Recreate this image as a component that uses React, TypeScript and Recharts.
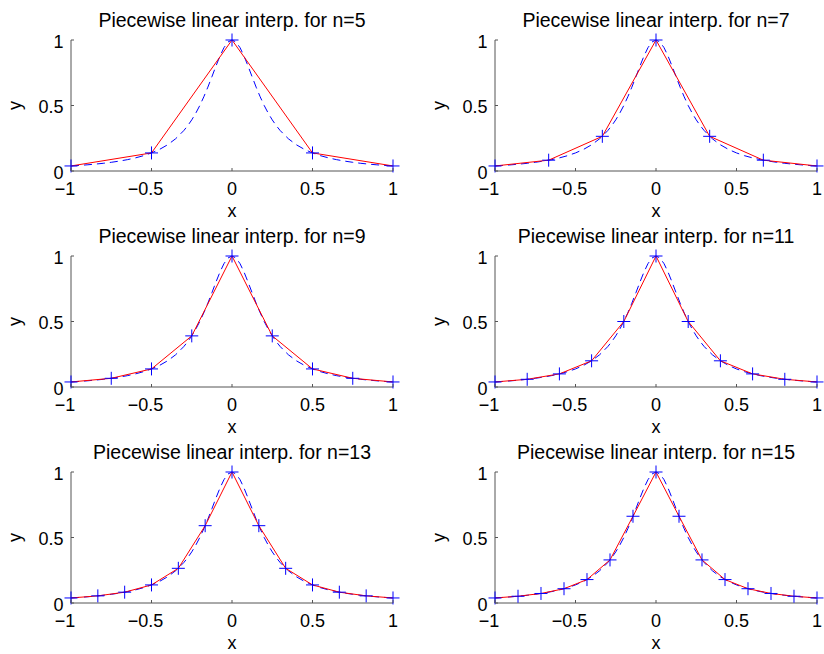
import { ComposedChart, Line, Scatter, XAxis, YAxis } from 'recharts'

// dashed reference curve
const fineX = [
  -1, -0.95, -0.9, -0.85, -0.8, -0.75, -0.7, -0.65, -0.6, -0.55, -0.5, -0.45, -0.4, -0.35,
  -0.3, -0.275, -0.25, -0.225, -0.2, -0.175, -0.15, -0.125, -0.1, -0.075, -0.05, -0.025,
  0,
  0.025, 0.05, 0.075, 0.1, 0.125, 0.15, 0.175, 0.2, 0.225, 0.25, 0.275, 0.3,
  0.35, 0.4, 0.45, 0.5, 0.55, 0.6, 0.65, 0.7, 0.75, 0.8, 0.85, 0.9, 0.95, 1,
]
const fineY = [
  0.0385, 0.0424, 0.0471, 0.0525, 0.0588, 0.0664, 0.0755, 0.0865, 0.1, 0.1168, 0.1379, 0.1649, 0.2, 0.2462,
  0.3077, 0.3459, 0.3902, 0.4414, 0.5, 0.5664, 0.64, 0.7191, 0.8, 0.8767, 0.9412, 0.9846,
  1,
  0.9846, 0.9412, 0.8767, 0.8, 0.7191, 0.64, 0.5664, 0.5, 0.4414, 0.3902, 0.3459, 0.3077,
  0.2462, 0.2, 0.1649, 0.1379, 0.1168, 0.1, 0.0865, 0.0755, 0.0664, 0.0588, 0.0525, 0.0471, 0.0424, 0.0385,
]

// interpolation nodes for each n
const x5 = [-1, -0.5, 0, 0.5, 1]
const y5 = [0.0385, 0.1379, 1, 0.1379, 0.0385]
const x7 = [-1, -0.6667, -0.3333, 0, 0.3333, 0.6667, 1]
const y7 = [0.0385, 0.0826, 0.2647, 1, 0.2647, 0.0826, 0.0385]
const x9 = [-1, -0.75, -0.5, -0.25, 0, 0.25, 0.5, 0.75, 1]
const y9 = [0.0385, 0.0664, 0.1379, 0.3902, 1, 0.3902, 0.1379, 0.0664, 0.0385]
const x11 = [-1, -0.8, -0.6, -0.4, -0.2, 0, 0.2, 0.4, 0.6, 0.8, 1]
const y11 = [0.0385, 0.0588, 0.1, 0.2, 0.5, 1, 0.5, 0.2, 0.1, 0.0588, 0.0385]
const x13 = [-1, -0.8333, -0.6667, -0.5, -0.3333, -0.1667, 0, 0.1667, 0.3333, 0.5, 0.6667, 0.8333, 1]
const y13 = [0.0385, 0.0545, 0.0826, 0.1379, 0.2647, 0.5902, 1, 0.5902, 0.2647, 0.1379, 0.0826, 0.0545, 0.0385]
const x15 = [-1, -0.8571, -0.7143, -0.5714, -0.4286, -0.2857, -0.1429, 0, 0.1429, 0.2857, 0.4286, 0.5714, 0.7143, 0.8571, 1]
const y15 = [0.0385, 0.0516, 0.0727, 0.1091, 0.1788, 0.3289, 0.6622, 1, 0.6622, 0.3289, 0.1788, 0.1091, 0.0727, 0.0516, 0.0385]

const xTicks = [-1, -0.5, 0, 0.5, 1]
const yTicks = [0, 0.5, 1]

const FONT = '"Liberation Sans", Arial, Helvetica, sans-serif'
const AXIS = '#555'

const fine = fineX.map((x, i) => ({ x, y: fineY[i] }))

const fmt = (v: number) => (v < 0 ? '\u2212' + Math.abs(v) : String(v))

function XTick({ x, y, payload }: any) {
  const neg = payload.value < 0
  return (
    <g>
      <line x1={x} y1={y} x2={x} y2={y - 3} stroke={AXIS} />
      <text x={x + (neg ? -6 : 0)} y={y + 24} textAnchor="middle" fontSize={18} fontFamily={FONT} fill="#000">
        {fmt(payload.value)}
      </text>
    </g>
  )
}

function YTick({ x, y, payload }: any) {
  return (
    <g>
      <line x1={x} y1={y} x2={x + 3} y2={y} stroke={AXIS} />
      <text x={x - 7.5} y={y + 7.5} textAnchor="end" fontSize={18} fontFamily={FONT} fill="#000">
        {fmt(payload.value)}
      </text>
    </g>
  )
}

function Plus({ cx, cy }: any) {
  const s = 6.5
  return <path d={`M${cx - s},${cy}H${cx + s}M${cx},${cy - s}V${cy + s}`} stroke="#0000ff" strokeWidth={1} fill="none" />
}

function Panel({ n, xs, ys, left, top }: { n: number; xs: number[]; ys: number[]; left: number; top: number }) {
  const nodes = xs.map((x, i) => ({ x, y: ys[i] }))
  return (
    <div style={{ position: 'absolute', left, top }}>
      <ComposedChart width={414} height={230} margin={{ top: 40, right: 22, bottom: 14, left: 0 }}>
        <XAxis
          type="number"
          dataKey="x"
          domain={[-1, 1]}
          ticks={xTicks}
          tick={<XTick />}
          tickSize={0}
          tickMargin={0}
          tickLine={false}
          axisLine={{ stroke: AXIS }}
          height={45}
          label={{
            content: ({ viewBox }: any) => (
              <g>
                <text x={viewBox.x + viewBox.width / 2} y={viewBox.y + 46} textAnchor="middle" fontSize={18} fontFamily={FONT} fill="#000">
                  x
                </text>
                <text x={viewBox.x + viewBox.width / 2} y={viewBox.y - 131 - 13.5} textAnchor="middle" fontSize={19.5} fontFamily={FONT} fill="#000">
                  {`Piecewise linear interp. for n=${n}`}
                </text>
              </g>
            ),
          }}
        />
        <YAxis
          type="number"
          dataKey="y"
          domain={[0, 1]}
          ticks={yTicks}
          tick={<YTick />}
          tickSize={0}
          tickMargin={0}
          tickLine={false}
          axisLine={{ stroke: AXIS }}
          width={70}
          label={{
            content: ({ viewBox }: any) => {
              const lx = viewBox.x + 20
              const ly = viewBox.y + viewBox.height / 2
              return (
                <text x={lx} y={ly} transform={`rotate(-90, ${lx}, ${ly})`} textAnchor="middle" fontSize={18} fontFamily={FONT} fill="#000">
                  y
                </text>
              )
            },
          }}
        />
        <Line data={fine} dataKey="y" type="linear" stroke="#0000ff" strokeWidth={1} strokeDasharray="8 5" dot={false} activeDot={false} isAnimationActive={false} />
        <Scatter data={nodes} dataKey="y" shape={<Plus />} isAnimationActive={false} />
        <Line data={nodes} dataKey="y" type="linear" stroke="#ff0000" strokeWidth={1} dot={false} activeDot={false} isAnimationActive={false} />
      </ComposedChart>
    </div>
  )
}

export default function App() {
  return (
    <div style={{ position: 'absolute', left: 0, top: 0, width: 824, height: 654, background: '#fff' }}>
      <Panel n={5} xs={x5} ys={y5} left={1} top={0} />
      <Panel n={7} xs={x7} ys={y7} left={425} top={0} />
      <Panel n={9} xs={x9} ys={y9} left={1} top={216} />
      <Panel n={11} xs={x11} ys={y11} left={425} top={216} />
      <Panel n={13} xs={x13} ys={y13} left={1} top={432} />
      <Panel n={15} xs={x15} ys={y15} left={425} top={432} />
    </div>
  )
}
